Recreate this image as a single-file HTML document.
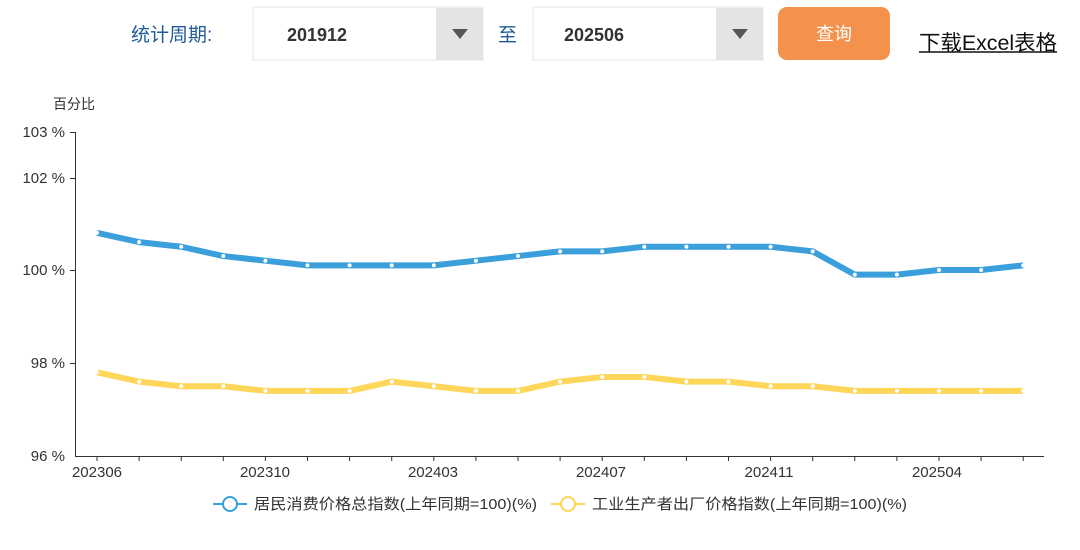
<!DOCTYPE html>
<html><head><meta charset="utf-8"><style>
body{margin:0;width:1080px;height:545px;background:#fff;font-family:"Liberation Sans","Noto Sans CJK SC",sans-serif;overflow:hidden}
</style></head><body>
<svg width="1080" height="545" xmlns="http://www.w3.org/2000/svg" font-family="Liberation Sans, Noto Sans CJK SC, sans-serif">
<text x="131" y="41" font-size="19" fill="#1f5a9a">统计周期:</text>
<rect x="253" y="7" width="230" height="53" fill="#fff" stroke="#e4e4e4"/>
<rect x="436" y="8" width="47" height="52" fill="#e4e4e4"/>
<path d="M452 29 L468 29 L460 39Z" fill="#555"/>
<text x="287" y="41" font-size="18" font-weight="bold" fill="#333">201912</text>
<text x="498" y="41" font-size="19" fill="#1f5a9a">至</text>
<rect x="533" y="7" width="230" height="53" fill="#fff" stroke="#e4e4e4"/>
<rect x="716" y="8" width="47" height="52" fill="#e4e4e4"/>
<path d="M732 29 L748 29 L740 39Z" fill="#555"/>
<text x="564" y="41" font-size="18" font-weight="bold" fill="#333">202506</text>
<rect x="778" y="7" width="112" height="53" rx="9" fill="#f4914d"/>
<text x="834" y="40" font-size="18" fill="#fff" text-anchor="middle">查询</text>
<text x="919" y="50" font-size="21" fill="#111" textLength="138" lengthAdjust="spacingAndGlyphs">下载Excel表格</text>
<line x1="919" y1="52" x2="1057" y2="52" stroke="#111" stroke-width="1.5"/>
<text x="53" y="109" font-size="14" fill="#333">百分比</text>
<g font-size="15" fill="#333" text-anchor="end">
<text x="65" y="137">103 %</text><text x="65" y="183">102 %</text><text x="65" y="275">100 %</text><text x="65" y="368">98 %</text><text x="65" y="461">96 %</text>
</g>
<g stroke="#333" stroke-width="1">
<line x1="75.5" y1="132" x2="75.5" y2="456"/>
<line x1="70" y1="132.5" x2="75" y2="132.5"/><line x1="70" y1="178.5" x2="75" y2="178.5"/><line x1="70" y1="270.5" x2="75" y2="270.5"/><line x1="70" y1="363.5" x2="75" y2="363.5"/>
<line x1="75" y1="456.5" x2="1044" y2="456.5"/>
</g>
<g id="ticks" stroke="#333"></g>
<g font-size="15" fill="#333" text-anchor="middle">
<text x="97" y="477">202306</text><text x="265" y="477">202310</text><text x="433" y="477">202403</text><text x="601" y="477">202407</text><text x="769" y="477">202411</text><text x="937" y="477">202504</text>
</g>
<polyline id="b" fill="none" stroke="#3a9fdb" stroke-width="6" stroke-linejoin="round"/>
<polyline id="y" fill="none" stroke="#fdd65a" stroke-width="6" stroke-linejoin="round"/>
<g id="dots" fill="#fff"></g>
<line x1="213" y1="504" x2="247" y2="504" stroke="#3a9fdb" stroke-width="2"/>
<circle cx="230" cy="504" r="7" fill="#fff" stroke="#3a9fdb" stroke-width="2"/>
<text x="254" y="509" font-size="15" fill="#333" textLength="283" lengthAdjust="spacingAndGlyphs">居民消费价格总指数(上年同期=100)(%)</text>
<line x1="551" y1="504" x2="585" y2="504" stroke="#fdd65a" stroke-width="2"/>
<circle cx="568" cy="504" r="7" fill="#fff" stroke="#fdd65a" stroke-width="2"/>
<text x="592" y="509" font-size="15" fill="#333" textLength="315" lengthAdjust="spacingAndGlyphs">工业生产者出厂价格指数(上年同期=100)(%)</text>
</svg>
<script>
var b=[100.8,100.6,100.5,100.3,100.2,100.1,100.1,100.1,100.1,100.2,100.3,100.4,100.4,100.5,100.5,100.5,100.5,100.4,99.9,99.9,100,100,100.1];
var y=[97.8,97.6,97.5,97.5,97.4,97.4,97.4,97.6,97.5,97.4,97.4,97.6,97.7,97.7,97.6,97.6,97.5,97.5,97.4,97.4,97.4,97.4,97.4];
function Y(v){return 270-(v-100)*46.5}
function X(i){return 97+i*42.1}
var ns="http://www.w3.org/2000/svg",d=document.getElementById('dots'),t=document.getElementById('ticks');
document.getElementById('b').setAttribute('points',b.map((v,i)=>X(i)+','+Y(v)).join(' '));
document.getElementById('y').setAttribute('points',y.map((v,i)=>X(i)+','+Y(v)).join(' '));
for(var i=0;i<23;i++){[b[i],y[i]].forEach(v=>{var c=document.createElementNS(ns,'circle');c.setAttribute('cx',X(i));c.setAttribute('cy',Y(v));c.setAttribute('r',2);d.appendChild(c);});
var l=document.createElementNS(ns,'line');l.setAttribute('x1',X(i));l.setAttribute('x2',X(i));l.setAttribute('y1',456);l.setAttribute('y2',461);t.appendChild(l);}
</script>
</body></html>
